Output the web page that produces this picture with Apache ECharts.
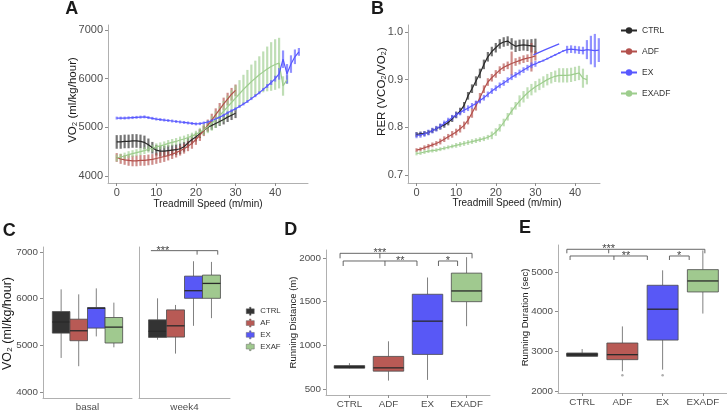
<!DOCTYPE html>
<html><head><meta charset="utf-8">
<script src="https://cdn.jsdelivr.net/npm/echarts@6/dist/echarts.min.js"></script>
<style>html,body{margin:0;padding:0;background:#fff}#c{width:727px;height:412px}</style>
</head><body><div id="c"></div>
<script>
// ================= DATA =================
// Panels A & B: ramp test, x = treadmill speed (m/min)
const groupsAB = ['CTRL', 'ADF', 'EX', 'EXADF'];
const tickSpeed = [0, 10, 20, 30, 40];
const tickVO2 = [4000, 5000, 6000, 7000];
const tickRER = [0.7, 0.8, 0.9, 1.0];

const speedCtrl = [0,1,2,3,4,5,6,7,8,9,10,11,12,13,14,15,16,17,18,19,20,21,22,23,24,25,26,27,28,29,30];
const speedAdf = [0,1,2,3,4,5,6,7,8,9,10,11,12,13,14,15,16,17,18,19,20,21,22,23,24,25,26,27,28,29,30];
const speedEx = [0,1,2,3,4,5,6,7,8,9,10,11,12,13,14,15,16,17,18,19,20,21,22,23,24,25,26,27,28,29,30,31,32,33,34,35,36,37,38,39,40,41,42,43,44,45,46];
const speedExadf = [0,1,2,3,4,5,6,7,8,9,10,11,12,13,14,15,16,17,18,19,20,21,22,23,24,25,26,27,28,29,30,31,32,33,34,35,36,37,38,39,40,41,42,43];

// VO2 (ml/kg/hour), mean and error
const vo2Ctrl = [4700,4700,4710,4710,4720,4720,4710,4690,4640,4580,4530,4510,4510,4520,4530,4540,4560,4600,4680,4750,4800,4870,4940,5000,5040,5080,5120,5160,5210,5250,5290];
const vo2CtrlErr = [140,140,140,140,140,140,140,140,130,120,110,110,110,110,110,110,110,100,100,100,90,90,90,90,90,90,90,100,100,100,100];
const vo2Adf = [4380,4350,4330,4320,4310,4310,4320,4320,4330,4340,4360,4380,4400,4420,4450,4480,4520,4560,4610,4670,4750,4840,4940,5040,5150,5260,5370,5480,5580,5680,5760];
const vo2AdfErr = [90,100,100,110,110,110,110,110,110,110,110,110,110,100,100,100,100,100,100,110,110,120,120,120,130,130,130,130,130,130,120];
const vo2Ex = [5190,5190,5190,5195,5200,5205,5210,5215,5200,5185,5170,5160,5150,5140,5130,5120,5110,5100,5090,5080,5070,5075,5090,5110,5140,5170,5210,5250,5300,5340,5380,5430,5480,5530,5590,5650,5710,5780,5850,5920,6000,6100,6400,6100,6300,6450,6550];
const vo2ExErr = [30,30,30,30,30,30,30,30,30,30,30,30,30,30,30,30,30,30,30,30,30,30,30,30,30,30,30,30,30,30,30,30,30,30,30,30,30,30,40,50,60,120,180,200,180,150,80];
const vo2Exadf = [4370,4390,4410,4440,4460,4480,4500,4520,4550,4570,4600,4620,4640,4670,4690,4710,4740,4760,4790,4820,4860,4900,4950,5010,5080,5160,5240,5330,5420,5510,5600,5690,5780,5860,5940,6010,6080,6140,6200,6250,6290,6320,5850,5980];
const vo2ExadfErr = [70,70,70,70,70,70,70,70,70,70,70,70,70,70,70,70,70,70,70,70,70,90,110,130,150,170,190,210,230,250,260,280,300,320,350,360,380,420,460,500,520,520,200,90];

// RER (VCO2/VO2), mean and error
const rerCtrl = [0.785,0.786,0.787,0.789,0.793,0.797,0.801,0.805,0.810,0.818,0.826,0.834,0.846,0.866,0.881,0.897,0.913,0.932,0.948,0.959,0.967,0.975,0.979,0.981,0.975,0.970,0.972,0.973,0.972,0.971,0.970];
const rerCtrlErr = [0.005,0.005,0.005,0.005,0.005,0.005,0.006,0.006,0.006,0.007,0.007,0.007,0.007,0.008,0.009,0.010,0.010,0.010,0.010,0.010,0.010,0.010,0.010,0.010,0.012,0.012,0.012,0.012,0.012,0.014,0.016];
const rerAdf = [0.752,0.754,0.757,0.760,0.763,0.766,0.770,0.775,0.780,0.785,0.790,0.797,0.804,0.815,0.830,0.845,0.862,0.880,0.895,0.904,0.912,0.920,0.926,0.930,0.934,0.937,0.940,0.943,0.945,0.947,0.950];
const rerAdfErr = [0.004,0.004,0.005,0.005,0.005,0.005,0.006,0.006,0.006,0.007,0.007,0.008,0.008,0.009,0.010,0.010,0.010,0.008,0.008,0.008,0.008,0.008,0.008,0.008,0.025,0.008,0.008,0.008,0.008,0.030,0.010];
const rerEx = [0.783,0.784,0.786,0.789,0.793,0.797,0.802,0.808,0.814,0.820,0.826,0.831,0.836,0.840,0.845,0.850,0.856,0.862,0.869,0.876,0.882,0.888,0.893,0.899,0.905,0.910,0.915,0.920,0.925,0.930,0.933,0.937,0.940,0.944,0.948,0.952,0.956,0.960,0.963,0.964,0.963,0.962,0.961,0.963,0.962,0.961,0.962];
const rerExErr = [0.006,0.006,0.006,0.006,0.006,0.006,0.006,0.006,0.006,0.006,0.006,0.006,0.006,0.006,0.006,0.006,0.006,0.006,0.006,0.006,0.006,0.006,0.006,0.006,0.006,0.006,0.006,0.006,0.006,0.006,0.006,0.002,0.002,0.002,0.002,0.002,0.002,0.002,0.008,0.008,0.008,0.008,0.008,0.020,0.030,0.035,0.025];
const speedExUpper = [29.5, 32.5, 36];
const rerExUpper = [0.952, 0.963, 0.975];
const rerExadf = [0.745,0.746,0.748,0.750,0.751,0.752,0.754,0.756,0.758,0.760,0.762,0.764,0.766,0.768,0.770,0.772,0.774,0.776,0.779,0.783,0.790,0.799,0.810,0.822,0.834,0.845,0.855,0.864,0.872,0.879,0.885,0.890,0.895,0.900,0.904,0.907,0.909,0.909,0.909,0.910,0.912,0.914,0.903,0.900];
const rerExadfErr = [0.004,0.004,0.004,0.004,0.004,0.004,0.004,0.004,0.004,0.004,0.005,0.005,0.005,0.005,0.005,0.005,0.005,0.005,0.005,0.008,0.008,0.008,0.008,0.008,0.008,0.008,0.012,0.012,0.012,0.012,0.012,0.012,0.012,0.012,0.012,0.012,0.015,0.015,0.015,0.015,0.015,0.015,0.020,0.010];

// Panel C: VO2 boxplots [min, Q1, median, Q3, max]
const groupsC = ['CTRL', 'AF', 'EX', 'EXAF'];
const facetsC = ['basal', 'week4'];
const boxBasal = [[4730,5262,5500,5723,6199],[4553,5099,5312,5560,6092],[5191,5369,5794,5809,6220],[4957,5050,5390,5596,5915]];
const boxWeek4 = [[5121,5170,5300,5546,6007],[4823,5177,5418,5759,5865],[5418,6007,6170,6482,6801],[5582,6007,6326,6504,6787]];
const bracketsC = [{from: 0.13, to: 3.85, ticks: [2.7, 3.85], y: 7028, label: '***', lx: 0.8}];

// Panel D: running distance (m)
const catsD = ['CTRL', 'ADF', 'EX', 'EXADF'];
const tickDist = [500, 1000, 1500, 2000];
const boxDist = [[735,738,750,768,796],[596,704,742,873,1046],[604,896,1277,1585,1777],[1219,1500,1623,1827,2010]];
const bracketsD = [
  {from: 0.76, to: 4.14, ticks: [0.76, 1.78, 4.14], y: 2054, label: '***', lx: 1.78},
  {from: 0.84, to: 2.73, ticks: [0.84, 1.91, 2.73], y: 1966, label: '**', lx: 2.30},
  {from: 3.28, to: 3.77, ticks: [3.28, 3.77], y: 1966, label: '*', lx: 3.52}
];

// Panel E: running duration (sec)
const catsE = ['CTRL', 'ADF', 'EX', 'EXADF'];
const tickDur = [2000, 3000, 4000, 5000];
const boxDur = [[2874,2874,2916,2958,3058],[2497,2790,2916,3210,3628],[2539,3283,4062,4665,5042],[3952,4497,4774,5059,5545]];
const outliersDur = [[2, 2397], [3, 2400]];
const bracketsE = [
  {from: 0.62, to: 4.05, ticks: [0.62, 1.66, 4.05], y: 5572, label: '***', lx: 1.66},
  {from: 0.70, to: 2.62, ticks: [0.70, 1.79, 2.62], y: 5403, label: '**', lx: 2.09},
  {from: 3.17, to: 3.66, ticks: [3.17, 3.66], y: 5403, label: '*', lx: 3.41}
];

// ================= STYLE =================
const FONT = 'Liberation Sans, Arial, Helvetica, sans-serif';
const lineColor = {CTRL: '#2a2a2a', ADF: '#b3504c', EX: '#5858ff', EXADF: '#9dcd8d'};
const boxColor = ['#333333', '#b85a55', '#5858f6', '#a0c98f'];
const axisLineColor = '#b0b0b0';
const tickColor = '#8c8c8c';
const labelColor = '#4d4d4d';
const plain = v => String(v);

function xValAxis(grid, min, max, ticks, fs, fmt) {
  return {gridIndex: grid, type: 'value', min: min, max: max,
    axisLine: {show: true, onZero: false, lineStyle: {color: axisLineColor}},
    axisTick: {show: true, customValues: ticks, length: 3, lineStyle: {color: tickColor}},
    axisLabel: {customValues: ticks, color: labelColor, fontSize: fs, fontFamily: FONT, margin: 4, formatter: fmt || plain},
    splitLine: {show: false}};
}
function yValAxis(grid, min, max, ticks, fs, fmt, showLabels) {
  return {gridIndex: grid, type: 'value', min: min, max: max,
    axisLine: {show: true, onZero: false, lineStyle: {color: axisLineColor}},
    axisTick: {show: showLabels, customValues: ticks, length: 3, lineStyle: {color: tickColor}},
    axisLabel: {show: showLabels, customValues: ticks, color: labelColor, fontSize: fs, fontFamily: FONT, margin: 5, formatter: fmt || plain},
    splitLine: {show: false}};
}

// ================= RENDERERS =================
function errRender(color) {
  return function (params, api) {
    const x = api.value(0), m = api.value(1), s = api.value(2);
    const a = api.coord([x, m - s]), b = api.coord([x, m + s]);
    return {type: 'line', shape: {x1: a[0], y1: a[1], x2: b[0], y2: b[1]},
      style: {stroke: color, lineWidth: 2.2, opacity: 0.65}};
  };
}
function boxEl(cx, w, ys, fill) {
  const y0 = ys[0], y1 = ys[1], y2 = ys[2], y3 = ys[3], y4 = ys[4];
  return {type: 'group', children: [
    {type: 'line', shape: {x1: cx, y1: y4, x2: cx, y2: y3}, style: {stroke: '#808080', lineWidth: 1}},
    {type: 'line', shape: {x1: cx, y1: y1, x2: cx, y2: y0}, style: {stroke: '#808080', lineWidth: 1}},
    {type: 'rect', shape: {x: cx - w / 2, y: y3, width: w, height: y1 - y3}, style: {fill: fill, stroke: '#4a4a4a', lineWidth: 0.8}},
    {type: 'line', shape: {x1: cx - w / 2, y1: y2, x2: cx + w / 2, y2: y2}, style: {stroke: '#2a2a2a', lineWidth: 1.3}}
  ]};
}
const GROUP_FRAC = 0.79;
function facetSlotPx(api, slot) {
  const center = api.coord([0, 5000])[0];
  const band = api.size([1, 0])[0];
  const gw = band * GROUP_FRAC, bw = gw / 4;
  return {x: center - gw / 2 + bw * slot, bw: bw};
}
function cRender(g) {
  return function (params, api) {
    const s = facetSlotPx(api, g + 0.5);
    const ys = [1, 2, 3, 4, 5].map(k => api.coord([0, api.value(k)])[1]);
    return boxEl(s.x, s.bw, ys, boxColor[g]);
  };
}
function catRender(widthUnits) {
  return function (params, api) {
    const x = api.value(0);
    const cx = api.coord([x, api.value(3)])[0];
    const w = api.size([widthUnits, 0])[0];
    const ys = [1, 2, 3, 4, 5].map(k => api.coord([x, api.value(k)])[1]);
    return boxEl(cx, w, ys, boxColor[params.dataIndex]);
  };
}
function bracketRender(list, tickPx, toPx) {
  return function (params, api) {
    const b = list[params.dataIndex];
    const yy = api.coord([1, b.y])[1];
    const st = {stroke: '#555', lineWidth: 0.9};
    const ch = [{type: 'line', shape: {x1: toPx(api, b.from), y1: yy, x2: toPx(api, b.to), y2: yy}, style: st}];
    b.ticks.forEach(t => { const px = toPx(api, t); ch.push({type: 'line', shape: {x1: px, y1: yy, x2: px, y2: yy + tickPx}, style: st}); });
    ch.push({type: 'text', x: toPx(api, b.lx), y: yy, style: {text: b.label, textAlign: 'center', textVerticalAlign: 'middle', font: '11px ' + FONT, fill: '#444'}});
    return {type: 'group', children: ch};
  };
}
const valPx = (api, v) => api.coord([v, 0])[0];
const slotPx = (api, v) => facetSlotPx(api, v).x;

// ================= SERIES =================
const abData = {
  A: {CTRL: [speedCtrl, vo2Ctrl, vo2CtrlErr], ADF: [speedAdf, vo2Adf, vo2AdfErr], EX: [speedEx, vo2Ex, vo2ExErr], EXADF: [speedExadf, vo2Exadf, vo2ExadfErr]},
  B: {CTRL: [speedCtrl, rerCtrl, rerCtrlErr], ADF: [speedAdf, rerAdf, rerAdfErr], EX: [speedEx, rerEx, rerExErr], EXADF: [speedExadf, rerExadf, rerExadfErr]}
};
const drawOrder = ['CTRL', 'ADF', 'EXADF', 'EX'];
const series = [];
['A', 'B'].forEach((p, pi) => {
  drawOrder.forEach(name => {
    const d = abData[p][name];
    series.push({type: 'line', name: name, xAxisIndex: pi, yAxisIndex: pi, silent: true,
      data: d[0].map((s, i) => [s, d[1][i]]), showSymbol: false, symbol: 'circle', symbolSize: 5,
      lineStyle: {width: 1.2, color: lineColor[name]}, itemStyle: {color: lineColor[name]}, z: 3});
  });
});
series.push({type: 'line', name: 'EX', xAxisIndex: 1, yAxisIndex: 1, silent: true,
  data: speedExUpper.map((s, i) => [s, rerExUpper[i]]), showSymbol: false, symbol: 'circle',
  lineStyle: {width: 1.2, color: lineColor.EX}, itemStyle: {color: lineColor.EX}, z: 3});
['A', 'B'].forEach((p, pi) => {
  drawOrder.forEach(name => {
    const d = abData[p][name];
    series.push({type: 'custom', name: name, xAxisIndex: pi, yAxisIndex: pi, silent: true, z: 2,
      data: d[0].map((s, i) => [s, d[1][i], d[2][i]]), renderItem: errRender(lineColor[name])});
  });
});
[boxBasal, boxWeek4].forEach((boxes, f) => {
  groupsC.forEach((name, g) => {
    series.push({type: 'custom', name: name, xAxisIndex: 2 + f, yAxisIndex: 2 + f, silent: true,
      data: [[0].concat(boxes[g])], renderItem: cRender(g)});
  });
});
series.push({type: 'custom', name: 'sigC', xAxisIndex: 3, yAxisIndex: 3, silent: true,
  data: bracketsC.map(b => [0, b.y]), renderItem: bracketRender(bracketsC, 4, slotPx)});
series.push({type: 'custom', name: 'distance', xAxisIndex: 4, yAxisIndex: 4, silent: true,
  data: boxDist.map((v, i) => [i + 1].concat(v)), renderItem: catRender(0.78)});
series.push({type: 'custom', name: 'sigD', xAxisIndex: 4, yAxisIndex: 4, silent: true,
  data: bracketsD.map(b => [b.lx, b.y]), renderItem: bracketRender(bracketsD, 5, valPx)});
series.push({type: 'custom', name: 'duration', xAxisIndex: 5, yAxisIndex: 5, silent: true,
  data: boxDur.map((v, i) => [i + 1].concat(v)), renderItem: catRender(0.77)});
series.push({type: 'scatter', name: 'outliers', xAxisIndex: 5, yAxisIndex: 5, silent: true,
  data: outliersDur, symbolSize: 2.5, itemStyle: {color: '#9a9a9a'}});
series.push({type: 'custom', name: 'sigE', xAxisIndex: 5, yAxisIndex: 5, silent: true,
  data: bracketsE.map(b => [b.lx, b.y]), renderItem: bracketRender(bracketsE, 4, valPx)});

// ================= OPTION =================
const BOX_ICON = 'path://M4,0h2v2h4v6h-4v2h-2v-2h-4v-6h4z';
const fmtCat = cats => (v => cats[Math.round(v) - 1] || '');
function gtext(x, y, text, font, rot) {
  return {type: 'text', x: x, y: y, rotation: rot || 0, silent: true,
    style: {text: text, font: font, fill: '#1a1a1a', textAlign: 'center', textVerticalAlign: 'middle'}};
}
const option = {
  animation: false,
  backgroundColor: '#fff',
  textStyle: {fontFamily: FONT},
  grid: [
    {left: 108, top: 25, width: 200, height: 158},
    {left: 408, top: 25, width: 192, height: 158},
    {left: 43, top: 247, width: 89, height: 152},
    {left: 139, top: 247, width: 91, height: 152},
    {left: 326, top: 250, width: 164, height: 145},
    {left: 558, top: 245, width: 175, height: 148}
  ],
  xAxis: [
    xValAxis(0, -2.2, 48.3, tickSpeed, 11),
    xValAxis(1, -2.15, 46.3, tickSpeed, 11),
    {gridIndex: 2, type: 'category', data: [facetsC[0]], axisLine: {lineStyle: {color: axisLineColor}},
      axisTick: {alignWithLabel: true, length: 3, lineStyle: {color: tickColor}}, axisLabel: {color: labelColor, fontSize: 9.8, margin: 4}},
    {gridIndex: 3, type: 'category', data: [facetsC[1]], axisLine: {lineStyle: {color: axisLineColor}},
      axisTick: {alignWithLabel: true, length: 3, lineStyle: {color: tickColor}}, axisLabel: {color: labelColor, fontSize: 9.8, margin: 4}},
    xValAxis(4, 0.4, 4.6, [1, 2, 3, 4], 9.8, fmtCat(catsD)),
    xValAxis(5, 0.4, 4.6, [1, 2, 3, 4], 9.8, fmtCat(catsE))
  ],
  yAxis: [
    yValAxis(0, 3856, 7103, tickVO2, 11, null, true),
    yValAxis(1, 0.683, 1.0147, tickRER, 11, v => v.toFixed(1), true),
    yValAxis(2, 3872, 7106, tickVO2, 9.8, null, true),
    yValAxis(3, 3872, 7106, tickVO2, 9.8, null, false),
    yValAxis(4, 431, 2092, tickDist, 9.8, null, true),
    yValAxis(5, 1950, 5680, tickDur, 9.8, null, true)
  ],
  legend: [
    {left: 615, top: 21, orient: 'vertical', itemWidth: 16, itemHeight: 8, itemGap: 12,
      textStyle: {fontSize: 8.5, color: '#333', fontFamily: FONT}, data: groupsAB, selectedMode: false},
    {left: 241, top: 302, orient: 'vertical', itemWidth: 10, itemHeight: 8, itemGap: 3.3,
      textStyle: {fontSize: 7.8, color: '#333', fontFamily: FONT}, selectedMode: false,
      data: groupsC.map((n, i) => ({name: n, icon: BOX_ICON, itemStyle: {color: boxColor[i], borderColor: '#666', borderWidth: 0.5}}))}
  ],
  graphic: [
    gtext(71.7, 9.5, 'A', 'bold 18px ' + FONT),
    gtext(377.5, 9, 'B', 'bold 18px ' + FONT),
    gtext(9.2, 231, 'C', 'bold 18px ' + FONT),
    gtext(290.8, 230, 'D', 'bold 18px ' + FONT),
    gtext(525, 228.5, 'E', 'bold 18px ' + FONT),
    gtext(72.5, 100, 'VO₂ (ml/kg/hour)', '11.5px ' + FONT, Math.PI / 2),
    gtext(382, 91.5, 'RER (VCO₂/VO₂)', '11.5px ' + FONT, Math.PI / 2),
    gtext(208, 204, 'Treadmill Speed (m/min)', '10px ' + FONT),
    gtext(507, 203, 'Treadmill Speed (m/min)', '10px ' + FONT),
    gtext(7.5, 323.5, 'VO₂ (ml/kg/hour)', '12.5px ' + FONT, Math.PI / 2),
    gtext(293, 322.5, 'Running Distance (m)', '9.5px ' + FONT, Math.PI / 2),
    gtext(525, 317.5, 'Running Duration (sec)', '9.5px ' + FONT, Math.PI / 2)
  ],
  series: series
};
const chart = echarts.init(document.getElementById('c'), null, {renderer: 'canvas'});
chart.setOption(option);
</script>
</body></html>
